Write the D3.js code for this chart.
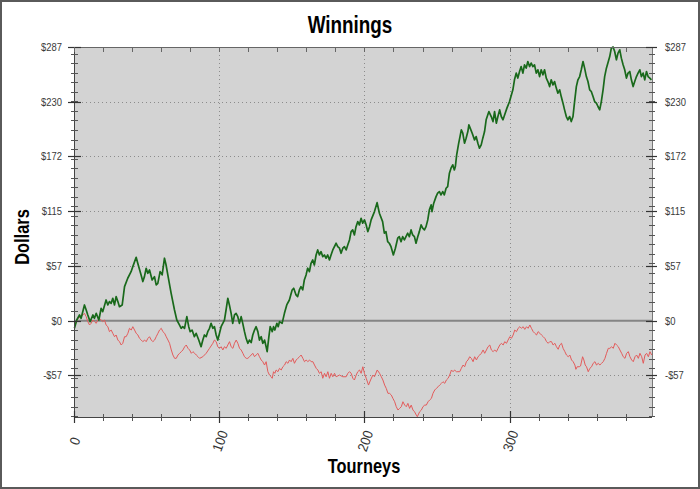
<!DOCTYPE html>
<html><head><meta charset="utf-8">
<script src="https://cdn.jsdelivr.net/npm/d3@7"></script>
<style>html,body{margin:0;padding:0;background:#fff}svg{display:block}</style>
</head><body>
<svg id="c" width="700" height="489"></svg>
<script>
// ---------- data ----------
const title = "Winnings";
const xTitle = "Tourneys";
const yTitle = "Dollars";
const xDomain = [0, 398];
const yDomain = [-101, 287];
const xTickValues = [0, 100, 200, 300];
const xTickLabels = ["0", "100", "200", "300"];
const yTickValues = [-57.4, 0, 57.4, 114.8, 172.2, 229.6, 287];
const yTickLabels = ["-$57", "$0", "$57", "$115", "$172", "$230", "$287"];

// green series: tourney index, dollars
const greenT = [0.3,1.9,3.8,4.9,7.2,8.4,9.5,11.1,13.0,14.1,15.3,17.1,18.7,19.8,22.1,23.3,24.4,25.6,26.7,27.9,29.0,30.2,31.3,33.2,34.8,37.0,39.3,40.5,42.8,43.9,46.2,47.4,48.5,49.7,50.8,52.0,53.8,55.4,56.6,57.7,59.3,60.7,62.3,63.4,64.6,66.9,69.2,70.8,72.6,73.8,74.9,76.1,77.7,79.0,80.0,81.3,82.9,84.1,85.9,87.5,88.7,89.8,91.0,92.1,93.3,94.4,95.6,96.7,97.9,99.0,100.2,101.3,103.6,104.7,105.9,107.0,108.2,109.3,110.5,111.6,112.8,113.9,115.1,116.2,117.4,118.5,119.7,120.8,122.0,123.1,124.3,125.4,126.6,127.7,128.9,130.0,131.2,132.3,133.0,134.2,135.1,136.5,137.4,138.3,139.7,140.6,141.5,143.3,144.9,146.5,148.3,150.2,151.3,152.9,154.0,155.2,156.3,157.5,158.6,159.8,160.9,162.1,163.2,164.4,165.5,166.7,167.8,169.0,170.1,171.3,172.4,173.6,174.7,175.9,177.0,178.2,180.5,181.6,182.8,183.9,185.1,186.2,187.4,188.5,189.7,190.8,191.9,193.1,194.2,195.4,196.5,197.7,198.8,200.0,201.2,202.3,203.5,204.6,206.9,208.7,210.3,212.5,213.7,214.8,216.0,217.1,218.3,219.9,221.3,222.9,224.0,225.2,226.3,227.5,228.6,229.8,230.9,232.1,233.2,234.4,235.5,236.7,237.8,239.0,240.1,241.3,242.4,243.6,244.7,245.9,246.5,247.7,249.3,250.4,251.6,252.7,253.9,255.0,256.2,257.3,258.5,259.6,260.8,261.9,262.6,263.5,264.9,265.8,266.7,267.7,268.9,270.0,271.2,271.9,272.8,274.2,275.8,276.9,278.1,279.2,280.4,281.5,282.7,283.8,285.7,287.3,288.5,289.6,290.8,291.9,293.1,294.2,295.4,296.5,298.1,299.9,302.2,303.3,304.5,305.6,306.8,307.9,309.1,310.2,311.4,312.5,313.7,314.8,316.0,317.1,318.3,319.4,320.6,321.7,322.9,324.0,325.2,326.3,327.5,328.6,329.8,330.9,332.1,333.2,334.4,335.5,336.7,337.8,339.0,340.1,341.3,342.4,343.6,344.7,345.9,347.0,348.2,349.3,350.5,351.6,352.8,353.9,355.1,356.2,357.4,358.5,359.7,360.8,362.0,363.1,364.3,365.4,366.6,368.9,370.0,371.2,372.3,373.5,374.6,375.8,376.9,378.1,379.2,380.4,381.5,382.7,383.8,385.0,386.1,387.3,388.4,389.6,390.7,391.9,393.0,394.2,395.3,396.5,397.6];
const greenV = [-8.0,0.7,6.0,2.5,16.5,11.2,6.0,-1.0,6.0,2.5,7.7,0.7,13.0,9.5,21.7,16.5,20.0,18.2,23.5,16.5,25.2,20.0,14.7,16.5,35.7,44.5,51.4,56.7,66.5,60.2,48.0,41.0,46.2,55.0,49.7,53.2,42.7,46.2,37.5,39.2,51.4,48.0,65.5,58.4,48.0,28.7,11.2,0.7,-4.5,-8.0,-6.3,-8.0,4.2,-6.3,-11.5,-9.8,-16.8,-13.2,-20.3,-27.3,-20.3,-15.0,-16.8,-11.5,-8.0,-2.8,-8.0,-6.3,-15.0,-20.3,-13.2,-6.3,0.7,11.2,23.5,16.5,7.7,-2.8,6.0,7.7,4.2,-2.8,4.2,-2.8,-11.5,-18.5,-23.7,-20.3,-23.0,-15.0,-9.8,-6.3,-11.5,-20.3,-16.8,-23.7,-20.3,-27.3,-32.5,-16.8,-6.3,-11.5,-6.3,-9.8,-2.8,-6.3,-1.0,-2.8,7.7,16.5,21.7,32.2,34.0,27.0,25.2,32.2,35.7,32.2,42.7,48.0,55.0,51.4,60.2,63.7,58.4,68.9,74.2,68.9,72.4,67.2,68.9,65.5,68.9,63.7,68.9,74.2,81.2,77.6,76.0,70.7,76.0,77.6,74.2,79.4,84.7,93.4,95.2,89.9,98.6,103.9,100.4,107.4,102.2,105.7,100.4,93.4,98.6,105.7,114.4,123.8,112.7,103.9,91.7,93.4,82.9,81.2,77.6,68.9,76.0,86.5,88.1,82.9,88.1,84.7,88.1,91.7,88.1,95.2,89.9,88.1,81.2,88.1,93.4,100.4,97.0,95.2,98.6,105.7,116.2,121.4,114.4,123.2,130.1,133.7,135.4,131.9,135.4,131.9,138.9,140.6,154.7,159.9,163.4,158.1,161.6,173.9,186.1,193.1,200.1,196.6,186.1,191.4,198.3,205.4,201.9,196.6,189.6,193.1,186.1,180.9,184.4,191.4,198.3,210.6,219.3,214.1,208.8,219.3,207.1,214.1,221.1,214.1,210.6,215.8,222.9,229.8,242.1,252.6,259.6,254.4,261.3,266.5,259.6,268.3,264.8,271.8,266.5,270.1,266.5,268.3,259.6,263.1,256.0,263.1,257.8,263.1,254.4,250.8,245.5,252.6,247.3,250.8,243.9,238.6,242.1,235.0,228.1,221.1,214.1,210.6,214.1,208.8,214.1,229.8,245.5,252.6,256.0,263.1,271.8,264.8,256.0,250.8,242.1,240.3,235.0,229.8,228.1,224.6,221.1,229.8,242.1,256.0,264.8,277.0,285.8,287.0,282.3,273.6,280.6,284.0,275.3,268.3,263.1,254.4,259.6,261.3,252.6,245.5,250.8,256.0,259.6,263.1,256.0,259.6,252.6,261.3,256.0,254.4,252.6];

// red series: tourney index, dollars
const redT = [0.3,2.6,4.9,7.2,8.4,9.5,10.7,11.8,13.0,14.1,15.3,16.4,17.6,18.7,19.8,21.0,22.1,23.3,24.4,25.6,26.7,27.9,29.0,30.2,31.3,32.5,33.6,34.8,35.9,37.1,38.2,39.4,40.5,41.7,42.8,44.0,45.1,46.3,47.4,48.6,49.7,50.9,52.0,53.2,54.3,55.5,56.6,57.8,58.9,60.1,61.2,62.4,63.5,64.7,65.8,67.0,68.1,69.3,70.4,71.6,72.7,73.9,75.0,76.2,77.3,78.5,79.6,80.8,81.9,83.1,84.2,85.4,86.5,88.7,91.0,93.3,95.6,96.7,97.9,99.0,100.2,101.3,102.5,103.6,104.8,105.9,107.1,108.2,109.4,110.5,111.7,112.8,114.0,115.1,116.3,117.4,118.6,119.7,120.9,122.0,123.1,124.3,125.4,126.6,127.7,128.9,130.0,131.2,132.3,133.5,134.6,135.8,136.5,137.4,138.3,139.2,140.4,141.5,142.7,143.8,145.0,146.1,147.3,148.4,149.5,150.7,151.8,153.0,154.1,155.3,156.4,157.6,158.7,159.9,161.0,162.2,163.3,164.5,165.6,166.8,167.9,169.0,170.2,171.3,172.5,173.6,174.8,175.9,177.1,178.2,179.4,180.5,182.8,185.1,187.4,188.6,189.7,190.9,192.0,193.1,194.3,195.4,196.6,197.7,198.9,200.0,201.2,202.8,204.2,205.8,206.9,208.8,210.4,211.6,212.7,213.9,215.0,216.2,217.3,218.5,219.6,220.8,221.9,223.1,224.2,225.4,226.5,227.7,228.8,229.9,231.1,232.2,233.4,234.5,235.7,236.4,238.0,239.2,240.3,241.5,242.6,243.8,244.9,246.1,247.2,248.4,249.5,250.7,251.8,253.0,254.1,255.3,256.4,257.6,258.7,259.9,261.0,262.1,263.3,264.4,265.6,266.7,267.9,269.0,270.2,271.3,272.5,273.6,274.8,275.9,277.1,278.2,279.4,280.5,281.7,282.8,284.0,285.1,286.3,287.4,288.6,289.7,290.9,292.0,293.2,294.3,295.5,296.6,297.8,298.9,300.1,301.2,302.4,303.5,304.7,305.8,307.0,308.1,309.3,310.4,311.6,312.7,313.9,315.0,316.2,317.3,318.5,319.6,320.8,321.9,323.1,324.2,325.4,326.5,327.6,328.8,329.9,331.1,332.2,333.4,334.5,335.7,336.8,338.0,339.1,340.3,341.4,342.6,343.7,344.9,345.6,346.5,347.9,348.8,350.2,351.1,352.0,352.9,354.1,355.2,356.4,357.5,358.7,359.8,361.0,362.1,363.3,364.4,365.6,366.7,367.9,369.0,370.2,371.3,372.5,373.6,374.8,375.9,377.1,378.2,379.4,380.5,381.7,382.8,384.0,385.1,386.3,387.4,388.6,389.7,390.9,392.0,393.2,394.3,395.5,396.6,397.8];
const redV = [-6.3,2.5,4.2,7.7,4.2,-1.0,-4.5,-2.8,0.7,-1.0,-2.8,0.7,2.5,0.7,-1.0,0.7,-4.5,-6.3,-11.5,-9.8,-13.2,-16.8,-15.0,-20.3,-22.0,-25.5,-23.7,-16.8,-16.8,-13.2,-8.0,-9.8,-6.3,-9.8,-13.2,-15.0,-18.5,-20.3,-22.0,-20.3,-22.0,-18.5,-16.8,-20.3,-22.0,-20.3,-16.8,-13.2,-9.8,-8.0,-11.5,-13.2,-16.8,-20.3,-23.7,-30.7,-36.0,-39.5,-39.5,-36.0,-34.2,-32.5,-30.7,-27.3,-25.5,-29.0,-30.7,-34.2,-32.5,-34.2,-36.0,-37.8,-39.5,-37.8,-34.2,-29.0,-23.7,-20.3,-22.0,-27.3,-29.0,-27.3,-30.7,-27.3,-29.0,-25.5,-22.0,-27.3,-29.0,-23.7,-20.3,-23.7,-29.0,-30.7,-34.2,-37.8,-39.5,-39.5,-37.8,-36.0,-34.2,-37.8,-36.0,-34.2,-37.8,-41.2,-43.0,-46.5,-43.0,-53.5,-57.0,-58.8,-60.4,-53.5,-55.2,-51.7,-53.5,-50.0,-51.7,-48.3,-46.5,-43.0,-44.7,-41.2,-43.0,-39.5,-44.7,-41.2,-39.5,-37.8,-36.0,-39.5,-43.0,-41.2,-43.0,-41.2,-43.0,-43.0,-46.5,-50.0,-51.7,-55.2,-53.5,-60.4,-55.2,-58.8,-53.5,-60.4,-55.2,-58.8,-55.2,-58.8,-57.0,-58.8,-58.8,-55.2,-53.5,-55.2,-60.4,-62.2,-57.0,-53.5,-51.7,-55.2,-48.3,-55.2,-60.4,-67.5,-62.2,-57.0,-58.8,-51.7,-55.2,-58.8,-62.2,-67.5,-71.0,-76.2,-76.2,-78.0,-81.5,-85.0,-90.2,-93.7,-92.0,-90.2,-85.0,-88.5,-90.2,-86.7,-92.0,-88.5,-93.7,-95.5,-99.0,-100.7,-95.5,-93.7,-90.2,-88.5,-88.5,-85.0,-83.2,-81.5,-76.2,-72.7,-71.0,-69.3,-67.5,-65.7,-64.0,-65.7,-62.2,-60.4,-57.0,-51.7,-53.5,-51.7,-53.5,-53.5,-53.5,-50.0,-46.5,-48.3,-43.0,-41.2,-37.8,-39.5,-43.0,-37.8,-41.2,-37.8,-36.0,-34.2,-30.7,-34.2,-30.7,-27.3,-25.5,-30.7,-32.5,-30.7,-32.5,-29.0,-25.5,-23.7,-25.5,-22.0,-23.7,-20.3,-16.8,-18.5,-15.0,-9.8,-11.5,-8.0,-6.3,-8.0,-6.3,-9.1,-6.3,-8.0,-4.5,-8.0,-11.5,-13.2,-15.0,-11.5,-13.2,-15.0,-16.8,-18.5,-22.0,-23.7,-22.0,-22.0,-25.5,-23.7,-27.3,-30.0,-25.5,-23.7,-29.0,-32.5,-36.0,-37.8,-36.0,-41.2,-43.0,-46.5,-51.0,-48.3,-48.3,-47.5,-37.8,-41.2,-46.5,-48.3,-53.5,-50.0,-48.3,-44.7,-43.0,-46.5,-44.7,-46.5,-44.7,-43.0,-39.5,-34.2,-29.0,-29.0,-27.3,-29.0,-23.7,-25.5,-27.3,-30.7,-34.2,-37.8,-39.5,-34.2,-32.5,-37.8,-41.2,-43.0,-37.8,-36.0,-39.5,-34.2,-37.8,-44.7,-36.0,-34.2,-37.8,-32.5,-36.0];

// ---------- drawing ----------
const svg = d3.select("#c");
const W = 700, H = 489;
const L = 74, R = 652, T = 47, B = 417;
const FONT = "'Liberation Sans', Arial, sans-serif";
const NARROW = 0.82;

const x = d3.scaleLinear().domain(xDomain).range([L, R]);
const y = d3.scaleLinear().domain(yDomain).range([B, T]);

svg.append("rect").attr("x", 0).attr("y", 0).attr("width", W).attr("height", H).attr("fill", "#fff");

// plot background
svg.append("rect").attr("x", L).attr("y", T).attr("width", R - L).attr("height", B - T).attr("fill", "#d3d3d3");

// grid
const grid = svg.append("g").attr("stroke", "#8c8c8c").attr("stroke-width", 1).attr("stroke-dasharray", "1,3");
yTickValues.filter(v => v !== 0 && v < yDomain[1]).forEach(v => {
  grid.append("line").attr("x1", L).attr("x2", R).attr("y1", Math.round(y(v)) + 0.5).attr("y2", Math.round(y(v)) + 0.5);
});
xTickValues.filter(v => v > 0).forEach(v => {
  grid.append("line").attr("y1", T).attr("y2", B).attr("x1", Math.round(x(v)) + 0.5).attr("x2", Math.round(x(v)) + 0.5);
});

// zero line
svg.append("line").attr("x1", L).attr("x2", R).attr("y1", y(0)).attr("y2", y(0))
  .attr("stroke", "#858585").attr("stroke-width", 2);

// series
const lineGen = d3.line().x(d => x(d[0])).y(d => y(d[1]));
const red = redT.map((t, i) => [t, redV[i]]);
const green = greenT.map((t, i) => [t, greenV[i]]);
svg.append("path").datum(red).attr("d", lineGen).attr("fill", "none")
  .attr("stroke", "#e35b5b").attr("stroke-width", 1).attr("stroke-linejoin", "round");
svg.append("path").datum(green).attr("d", lineGen).attr("fill", "none")
  .attr("stroke", "#19691b").attr("stroke-width", 1.7).attr("stroke-linejoin", "round");

// frame of plot
svg.append("line").attr("x1", L).attr("x2", R).attr("y1", T + 0.5).attr("y2", T + 0.5).attr("stroke", "#666");
const axisColor = "#444";

// minor tick values
const yMinor = d3.range(-100, 290, 10);
const xMinor = d3.range(0, 400, 20);

// left axis
const gl = svg.append("g");
gl.append("line").attr("x1", L + 0.5).attr("x2", L + 0.5).attr("y1", T).attr("y2", B + 3).attr("stroke", axisColor);
yMinor.forEach(v => gl.append("line").attr("x1", L - 3).attr("x2", L + 4)
  .attr("y1", Math.round(y(v)) + 0.5).attr("y2", Math.round(y(v)) + 0.5).attr("stroke", "#555"));
yTickValues.forEach(v => gl.append("line").attr("x1", L - 6).attr("x2", L + 7)
  .attr("y1", Math.round(y(v)) + 0.5).attr("y2", Math.round(y(v)) + 0.5).attr("stroke", "#333").attr("stroke-width", 1.2));

// right axis
const gr = svg.append("g");
gr.append("line").attr("x1", R + 0.5).attr("x2", R + 0.5).attr("y1", T).attr("y2", B).attr("stroke", "#777");
yMinor.forEach(v => gr.append("line").attr("x1", R - 3).attr("x2", R + 3)
  .attr("y1", Math.round(y(v)) + 0.5).attr("y2", Math.round(y(v)) + 0.5).attr("stroke", "#555"));
yTickValues.forEach(v => gr.append("line").attr("x1", R - 6).attr("x2", R + 5)
  .attr("y1", Math.round(y(v)) + 0.5).attr("y2", Math.round(y(v)) + 0.5).attr("stroke", "#333").attr("stroke-width", 1.2));

// bottom axis
const gb = svg.append("g");
gb.append("line").attr("x1", L).attr("x2", R).attr("y1", B + 0.5).attr("y2", B + 0.5).attr("stroke", axisColor);
xMinor.forEach(v => gb.append("line").attr("x1", Math.round(x(v)) + 0.5).attr("x2", Math.round(x(v)) + 0.5)
  .attr("y1", B - 3).attr("y2", B + 4).attr("stroke", "#555"));
xTickValues.forEach(v => gb.append("line").attr("x1", Math.round(x(v)) + 0.5).attr("x2", Math.round(x(v)) + 0.5)
  .attr("y1", B - 6).attr("y2", B + 6).attr("stroke", "#333").attr("stroke-width", 1.2));
// top ticks
xMinor.forEach(v => gb.append("line").attr("x1", Math.round(x(v)) + 0.5).attr("x2", Math.round(x(v)) + 0.5)
  .attr("y1", T).attr("y2", T + 5).attr("stroke", "#666"));

// helper for condensed text
function ntext(px, py, str, opts) {
  const g = svg.append("g").attr("transform", `translate(${px},${py}) rotate(${opts.rotate || 0}) scale(${opts.sx || NARROW},1)`);
  return g.append("text").text(str).attr("font-family", FONT).attr("font-size", opts.size)
    .attr("font-weight", opts.weight || "normal").attr("fill", opts.fill || "#333")
    .attr("text-anchor", opts.anchor || "start").attr("dominant-baseline", opts.baseline || "auto")
    .attr("font-style", opts.style || "normal");
}

// y tick labels
yTickValues.forEach((v, i) => {
  ntext(62, y(v) + 4, yTickLabels[i], { size: 11.5, anchor: "end", fill: "#3a3a3a" });
  ntext(665, y(v) + 4, yTickLabels[i], { size: 11.5, anchor: "start", fill: "#3a3a3a" });
});

// x tick labels (rotated, centred below the tick)
xTickValues.forEach((v, i) => {
  ntext(x(v) + 1, 441, xTickLabels[i], { size: 14, anchor: "middle", baseline: "central", rotate: -70, sx: 0.9, fill: "#333" });
});

// titles
ntext(350, 33, title, { size: 23, weight: "bold", anchor: "middle", fill: "#000" });
ntext(364, 473, xTitle, { size: 20, weight: "bold", anchor: "middle", fill: "#000" });
ntext(29, 237, yTitle, { size: 20, weight: "bold", anchor: "middle", rotate: -90, fill: "#000" });

// outer border
svg.append("rect").attr("x", 1).attr("y", 1).attr("width", W - 2).attr("height", H - 2)
  .attr("fill", "none").attr("stroke", "#5a5a5a").attr("stroke-width", 2);
</script>
</body></html>
